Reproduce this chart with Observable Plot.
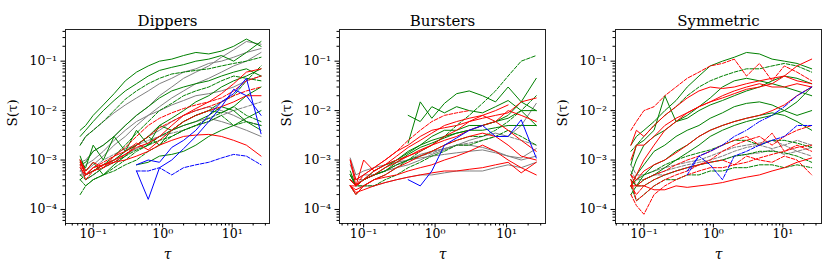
<!DOCTYPE html>
<html>
<head>
<meta charset="utf-8">
<script src="https://cdn.jsdelivr.net/npm/d3@7"></script>
<script src="https://cdn.jsdelivr.net/npm/@observablehq/plot@0.6"></script>
<style>
  html, body { margin: 0; padding: 0; background: #fff; }
  #fig { position: relative; width: 831px; height: 271px; overflow: hidden; }
  #fig > svg { position: absolute; top: 0; }
</style>
</head>
<body>
<div id="fig"></div>
<script>
// ---- shared grids / ticks ----
const tau = [0.065, 0.078, 0.1, 0.14, 0.2, 0.29, 0.42, 0.62, 0.9, 1.35, 2, 3, 4.6, 7, 10.5, 16, 26];
const xMajor = [0.1, 1, 10];
const xMajorLabels = ["10⁻¹", "10⁰", "10¹"];
const xMinor = [0.04, 0.05, 0.06, 0.07, 0.08, 0.09, 0.2, 0.3, 0.4, 0.5, 0.6, 0.7, 0.8, 0.9, 2, 3, 4, 5, 6, 7, 8, 9, 20, 30];
const yMajor = [1e-4, 1e-3, 1e-2, 1e-1];
const yMajorLabels = ["10⁻⁴", "10⁻³", "10⁻²", "10⁻¹"];
const yMinor = [6e-5, 7e-5, 8e-5, 9e-5, 2e-4, 3e-4, 4e-4, 5e-4, 6e-4, 7e-4, 8e-4, 9e-4,
  2e-3, 3e-3, 4e-3, 5e-3, 6e-3, 7e-3, 8e-3, 9e-3, 2e-2, 3e-2, 4e-2, 5e-2, 6e-2, 7e-2, 8e-2, 9e-2,
  2e-1, 3e-1, 4e-1];
const panelTitles = ["Dippers", "Bursters", "Symmetric"];
const n = null;

// ---- Dippers ----
const dippersColor = ["y","y","y","y","y","y","y","g","g","g","g","g","g","g","g","g","g","g","g","r","r","r","r","r","b","b","b"];
const dippersStyle = ["s","s","s","s","s","d","s","s","s","d","s","d","d","s","s","d","s","d","s","s","d","s","s","d","s","s","d"];
const dippersValues = [
  [0.0009,0.001,0.0015,0.002,0.003,0.005,0.008,0.012,0.02,0.03,0.045,0.06,0.08,0.12,0.17,0.25,0.22],
  [0.0005,0.0006,0.0008,0.0012,0.002,0.003,0.005,0.008,0.012,0.018,0.025,0.035,0.045,0.06,0.08,0.1,0.15],
  [0.0006,0.0008,0.001,0.0015,0.0025,0.004,0.006,0.008,0.01,0.013,0.016,0.02,0.022,0.025,0.03,0.04,0.05],
  [0.0005,0.0005,0.0006,0.0008,0.001,0.0013,0.0017,0.0022,0.003,0.004,0.005,0.006,0.007,0.006,0.005,0.004,0.003],
  [0.0007,0.0004,0.0005,0.0007,0.001,0.0015,0.002,0.003,0.004,0.006,0.008,0.01,0.012,0.01,0.008,0.006,0.005],
  [0.0006,0.0005,0.0007,0.001,0.0013,0.0017,0.002,0.0025,0.003,0.0035,0.004,0.005,0.006,0.008,0.01,0.012,0.015],
  [0.002,0.003,0.004,0.006,0.009,0.013,0.018,0.025,0.035,0.045,0.06,0.07,0.09,0.1,0.12,0.15,0.18],
  [0.004,0.005,0.008,0.013,0.022,0.04,0.06,0.08,0.1,0.11,0.13,0.15,0.14,0.16,0.2,0.28,0.2],
  [0.003,0.004,0.006,0.01,0.016,0.025,0.035,0.05,0.065,0.075,0.085,0.1,0.11,0.13,0.1,0.15,0.25],
  [0.002,0.003,0.004,0.006,0.01,0.017,0.025,0.035,0.045,0.055,0.06,0.065,0.07,0.08,0.09,0.1,0.12],
  [0.001,0.0005,0.0006,0.0008,0.001,0.0015,0.002,0.003,0.005,0.007,0.01,0.015,0.02,0.03,0.04,0.05,0.07],
  [0.0004,0.0003,0.0004,0.0005,0.0007,0.001,0.0015,0.002,0.003,0.004,0.006,0.008,0.01,0.015,0.02,0.04,0.08],
  [0.0002,0.0003,0.0004,0.0005,0.0006,0.0008,0.001,0.0015,0.002,0.003,0.004,0.005,0.006,0.008,0.005,0.006,0.005],
  [0.0012,0.0006,0.0009,0.0005,0.0008,0.0012,0.002,0.003,0.002,0.004,0.005,0.006,0.008,0.012,0.01,0.006,0.004],
  [n,n,n,n,n,n,0.0008,0.0009,0.0012,0.0013,0.0015,0.002,0.003,0.004,0.005,0.007,0.01],
  [0.0004,0.0005,0.0006,0.0008,0.0012,0.002,0.0035,0.006,0.01,0.014,0.02,0.025,0.03,0.04,0.05,0.045,0.04],
  [0.0008,0.0009,0.0015,0.002,0.003,0.005,0.008,0.012,0.018,0.025,0.03,0.035,0.04,0.05,0.06,0.07,0.05],
  [0.0005,0.0004,0.0005,0.0007,0.0009,0.0012,0.0016,0.002,0.0025,0.003,0.004,0.005,0.007,0.009,0.012,0.008,0.006],
  [0.0009,0.0007,0.002,0.001,0.003,0.0015,0.004,0.002,0.005,0.004,0.006,0.008,0.01,0.009,0.012,0.02,0.03],
  [0.001,0.0005,0.0007,0.0008,0.001,0.0013,0.0018,0.0022,0.003,0.005,0.008,0.011,0.015,0.022,0.035,0.06,0.07],
  [0.0008,0.0004,0.0006,0.0007,0.0009,0.0013,0.002,0.003,0.0045,0.006,0.008,0.01,0.012,0.015,0.02,0.025,0.03],
  [0.0009,0.0005,0.0006,0.0008,0.0009,0.001,0.0012,0.0015,0.002,0.0025,0.003,0.0032,0.0033,0.003,0.0025,0.002,0.0012],
  [0.001,0.0006,0.0009,0.0007,0.0012,0.0015,0.0022,0.0016,0.0025,0.004,0.006,0.008,0.01,0.012,0.015,0.02,0.02],
  [0.0007,0.0005,0.0007,0.0009,0.0012,0.0018,0.003,0.005,0.007,0.009,0.011,0.013,0.015,0.018,0.025,0.04,0.05],
  [n,n,n,n,n,n,0.0006,0.00016,0.0007,0.001,0.0017,0.003,0.006,0.012,0.027,0.02,0.008],
  [n,n,n,n,n,n,0.0008,0.001,0.0009,0.0018,0.0025,0.004,0.008,0.015,0.022,0.045,0.0034],
  [n,n,n,n,n,n,0.0006,0.0006,0.0007,0.0005,0.0007,0.0008,0.0009,0.0011,0.0013,0.0012,0.0008]
];

// ---- Bursters ----
const burstersColor = ["y","y","y","y","y","g","g","g","g","g","g","g","g","r","r","r","r","r","r","r","r","b"];
const burstersStyle = ["s","s","s","s","d","s","s","d","s","s","d","d","s","s","d","s","s","s","s","s","s","s"];
const burstersValues = [
  [0.0011,0.0005,0.0006,0.0007,0.0008,0.0009,0.001,0.0011,0.0012,0.0013,0.0014,0.0015,0.0016,0.0014,0.0012,0.0011,0.0017],
  [0.0008,0.0004,0.0005,0.0005,0.0006,0.0007,0.0008,0.001,0.0013,0.0016,0.002,0.0025,0.003,0.0035,0.003,0.005,0.014],
  [0.0005,0.0003,0.0003,0.0003,0.00035,0.0004,0.00045,0.0005,0.0005,0.00055,0.0006,0.0006,0.0006,0.0007,0.0008,0.0007,0.0009],
  [0.0004,0.0003,0.0004,0.0005,0.0006,0.0008,0.001,0.0013,0.0015,0.0017,0.002,0.002,0.0018,0.0015,0.0012,0.001,0.0012],
  [0.0005,0.0004,0.0004,0.0005,0.0006,0.0008,0.001,0.0012,0.0014,0.0017,0.002,0.0022,0.0025,0.003,0.003,0.0025,0.002],
  [n,n,n,n,n,n,0.0022,0.015,0.007,0.014,0.022,0.025,0.02,0.015,0.03,0.015,0.01],
  [n,n,n,n,n,n,0.008,0.006,0.012,0.009,0.012,0.01,0.009,0.012,0.016,0.01,0.005],
  [0.0005,0.0003,0.0004,0.0005,0.0006,0.0008,0.001,0.0015,0.002,0.003,0.005,0.008,0.014,0.025,0.05,0.1,0.13],
  [0.0006,0.0003,0.0004,0.0006,0.0008,0.001,0.0015,0.002,0.003,0.004,0.004,0.005,0.005,0.006,0.008,0.015,0.045],
  [0.0005,0.0003,0.0004,0.0005,0.0007,0.001,0.0014,0.002,0.0025,0.003,0.0035,0.004,0.004,0.0045,0.005,0.005,0.005],
  [0.0004,0.0003,0.0003,0.0004,0.0005,0.0007,0.001,0.0012,0.0015,0.002,0.0025,0.003,0.003,0.004,0.006,0.01,0.02],
  [0.0003,0.0002,0.0003,0.0003,0.0004,0.0005,0.0007,0.0009,0.0012,0.0015,0.002,0.002,0.0025,0.003,0.004,0.003,0.002],
  [0.0004,0.0003,0.0004,0.0005,0.0006,0.0009,0.0013,0.0018,0.0022,0.0028,0.0035,0.004,0.005,0.006,0.007,0.01,0.01],
  [0.001,0.0004,0.0005,0.0007,0.001,0.0015,0.002,0.003,0.004,0.0045,0.005,0.006,0.007,0.008,0.009,0.015,0.018],
  [0.0004,0.0003,0.0005,0.0007,0.001,0.0015,0.0025,0.004,0.006,0.008,0.009,0.01,n,n,n,n,n],
  [0.001,0.0003,0.001,0.0006,0.0008,0.001,0.0012,0.0015,0.002,0.0025,0.003,0.004,0.005,0.006,0.01,0.008,0.006],
  [0.0003,0.00022,0.00025,0.0003,0.00035,0.0004,0.00045,0.0005,0.00055,0.0006,0.0006,0.00065,0.0007,0.0008,0.0009,0.00055,0.0009],
  [0.0003,0.0002,0.0003,0.0004,0.0005,0.0007,0.0009,0.0012,0.0015,0.002,0.0025,0.003,0.0035,0.003,0.002,0.0012,0.001],
  [0.0004,0.0003,0.0004,0.0006,0.0008,0.0012,0.0018,0.0025,0.0035,0.005,0.006,0.007,0.008,0.006,0.004,0.0025,0.0015],
  [0.0003,0.0003,0.0004,0.0005,0.0007,0.0009,0.0012,0.0016,0.002,0.003,0.004,0.006,0.008,0.01,0.013,n,n],
  [0.0003,0.00025,0.0003,0.0004,0.00045,0.0005,0.0006,0.0007,0.0008,0.001,0.0012,0.0015,0.002,0.0015,0.001,0.0007,0.0005],
  [n,n,n,n,n,n,0.0004,0.0003,0.0006,0.002,0.0028,0.004,0.005,0.003,0.003,0.0065,0.0011]
];

// ---- Symmetric ----
const symmetricColor = ["y","y","y","g","g","g","g","g","g","g","g","g","g","r","r","r","r","r","r","r","r","r","r","b","b"];
const symmetricStyle = ["d","d","d","s","s","s","s","s","s","d","d","d","d","d","s","s","s","s","s","d","d","d","d","dd","d"];
const symmetricValues = [
  [0.0008,0.0005,0.0005,0.0006,0.0007,0.0008,0.0009,0.001,0.0012,0.0015,0.0018,0.002,0.0022,0.0025,0.002,0.0025,0.002],
  [0.0006,0.0004,0.0004,0.0005,0.0006,0.0007,0.0008,0.0009,0.001,0.0012,0.0015,0.0018,0.002,0.0017,0.002,0.0015,0.0018],
  [0.0005,0.0003,0.0004,0.0005,0.0005,0.0006,0.0007,0.0008,0.0009,0.001,0.0012,0.0013,0.0014,0.0016,0.0013,0.0015,0.0012],
  [0.002,0.003,0.004,0.006,0.01,0.016,0.03,0.05,0.08,0.1,0.12,0.15,0.14,0.11,0.1,0.09,0.07],
  [0.0008,0.002,0.0025,0.004,0.02,0.006,0.008,0.012,0.018,0.03,0.04,0.045,0.04,0.035,0.03,0.025,0.02],
  [0.0005,0.001,0.002,0.003,0.004,0.006,0.007,0.01,0.013,0.016,0.02,0.025,0.03,0.04,0.05,0.045,0.035],
  [0.0003,0.0005,0.0008,0.0015,0.002,0.003,0.004,0.005,0.007,0.009,0.012,0.014,0.015,0.013,0.01,0.008,0.01],
  [0.0004,0.0003,0.0005,0.0008,0.001,0.0015,0.002,0.003,0.004,0.005,0.006,0.007,0.008,0.009,0.008,0.006,0.004],
  [0.0004,0.0003,0.0004,0.0005,0.0007,0.001,0.0014,0.002,0.003,0.004,0.005,0.006,0.007,0.008,0.01,0.015,0.03],
  [0.0003,0.00015,0.0002,0.0003,0.0004,0.0004,0.0005,0.0005,0.0006,0.0006,0.0007,0.0007,0.0008,0.0008,0.0007,0.0008,0.0007],
  [0.0002,0.0003,0.0003,0.0004,0.0005,0.0006,0.0007,0.0008,0.0009,0.001,0.0012,0.0013,0.0015,0.0015,0.0014,0.0012,0.0009],
  [0.0003,0.0004,0.0005,0.0006,0.0008,0.001,0.0012,0.0014,0.0016,0.002,0.0025,0.0025,0.002,0.0025,0.0025,0.0022,0.0018],
  [0.0015,0.002,0.003,0.005,0.008,0.012,0.02,0.03,0.04,0.05,0.06,0.07,0.07,0.08,0.09,0.08,0.06],
  [0.004,0.006,0.01,0.012,0.02,0.03,0.045,0.06,0.08,0.09,0.11,0.05,0.09,0.04,0.08,0.06,0.04],
  [0.0003,0.0005,0.001,0.002,0.004,0.006,0.009,0.012,0.015,0.018,0.022,0.027,0.03,0.035,0.05,0.08,0.11],
  [0.002,0.004,0.003,0.005,0.008,0.012,0.018,0.025,0.03,0.028,0.03,0.035,0.04,0.045,0.05,0.04,0.035],
  [0.001,0.002,0.002,0.003,0.005,0.007,0.009,0.012,0.015,0.02,0.025,0.03,0.035,0.03,0.03,0.035,0.03],
  [0.0005,0.0004,0.0006,0.0008,0.001,0.0014,0.002,0.003,0.004,0.005,0.006,0.007,0.008,0.01,0.013,0.02,0.03],
  [0.0003,0.0003,0.0003,0.00025,0.00025,0.0003,0.00028,0.0003,0.00032,0.00035,0.0004,0.00045,0.0005,0.0006,0.0007,0.0009,0.0011],
  [0.0003,0.0002,0.0003,0.0004,0.0005,0.0006,0.0007,0.0008,0.0009,0.001,0.0008,0.0012,0.001,0.0009,0.0012,0.001,0.0005],
  [0.0004,0.00015,0.0002,0.0003,0.0004,0.0005,0.0006,0.0008,0.001,0.0015,0.002,0.0025,0.003,0.002,0.003,0.004,0.005],
  [0.0005,0.0003,0.0004,0.0005,0.0006,0.0008,0.001,0.0012,0.0015,0.002,0.0025,0.003,0.002,0.0035,0.0015,0.002,0.0015],
  [0.0002,0.00012,0.00008,0.0002,0.0003,0.0004,0.0005,0.0006,0.0007,0.0007,0.0008,0.0009,0.0011,0.0013,0.0015,0.0018,0.002],
  [n,n,n,n,n,n,0.0006,0.0012,0.0015,0.002,0.003,0.004,0.006,0.008,0.012,0.02,0.03],
  [n,n,n,n,n,n,0.0005,0.0012,0.0008,0.0004,0.0012,0.0015,0.002,0.0025,0.003,0.005,0.005]
];

// ---- rendering ----
const colorOf = {g: "#008000", r: "#ff0000", y: "#808080", b: "#0000ff"};
const dashOf = {s: null, d: "3.7,1.6", dd: "6.4,1.6,1,1.6"};
const xLab = new Map(xMajor.map((v, i) => [v, xMajorLabels[i]]));
const yLab = new Map(yMajor.map((v, i) => [v, yMajorLabels[i]]));
const yDomain = [5.2e-5, 0.437];

const panels = [
  {values: dippersValues, colors: dippersColor, styles: dippersStyle, xDomain: [0.040, 34.4], left: 0, frameW: 204},
  {values: burstersValues, colors: burstersColor, styles: burstersStyle, xDomain: [0.046, 35], left: 274, frameW: 206},
  {values: symmetricValues, colors: symmetricColor, styles: symmetricStyle, xDomain: [0.039, 36], left: 550, frameW: 206}
];

const fig = document.getElementById("fig");
const font = "DejaVu Serif";

panels.forEach((p, k) => {
  const lineMarks = p.values.map((vals, i) => {
    const rows = vals.map((v, j) => ({x: tau[j], y: v})).filter(r => r.y != null);
    return Plot.line(rows, {
      x: "x", y: "y",
      stroke: colorOf[p.colors[i]],
      strokeWidth: 1,
      strokeDasharray: dashOf[p.styles[i]],
      strokeLinejoin: "round"
    });
  });
  const chart = Plot.plot({
    width: 65 + p.frameW + 10,
    height: 271,
    marginLeft: 65, marginRight: 10, marginTop: 29, marginBottom: 48,
    style: {fontFamily: font, fontSize: "12px", color: "black", background: "transparent", overflow: "visible"},
    x: {type: "log", domain: p.xDomain},
    y: {type: "log", domain: yDomain},
    marks: [
      ...lineMarks,
      Plot.frame({stroke: "#222", strokeWidth: 1}),
      Plot.axisX(xMinor.filter(v => v >= p.xDomain[0] && v <= p.xDomain[1]), {tickSize: 2.5, tickFormat: () => "", label: null}),
      Plot.axisX(xMajor, {tickSize: 4.5, tickPadding: 1, tickFormat: d => xLab.get(d), label: null, fontSize: 12.5}),
      Plot.axisY(yMinor, {tickSize: 2.5, tickFormat: () => "", label: null}),
      Plot.axisY(yMajor, {tickSize: 4.5, tickPadding: 4, tickFormat: d => yLab.get(d), label: null, fontSize: 12.5}),
      Plot.text([panelTitles[k]], {frameAnchor: "top", dy: -14, text: d => d, fontSize: 15}),
      Plot.text(["τ"], {frameAnchor: "bottom", dy: 35, text: d => d, fontSize: 14, fontStyle: "italic"}),
      Plot.text(["S(τ)"], {frameAnchor: "left", dx: -53, rotate: -90, text: d => d, fontSize: 13.5})
    ]
  });
  chart.style.left = p.left + "px";
  fig.appendChild(chart);
});
</script>
</body>
</html>
